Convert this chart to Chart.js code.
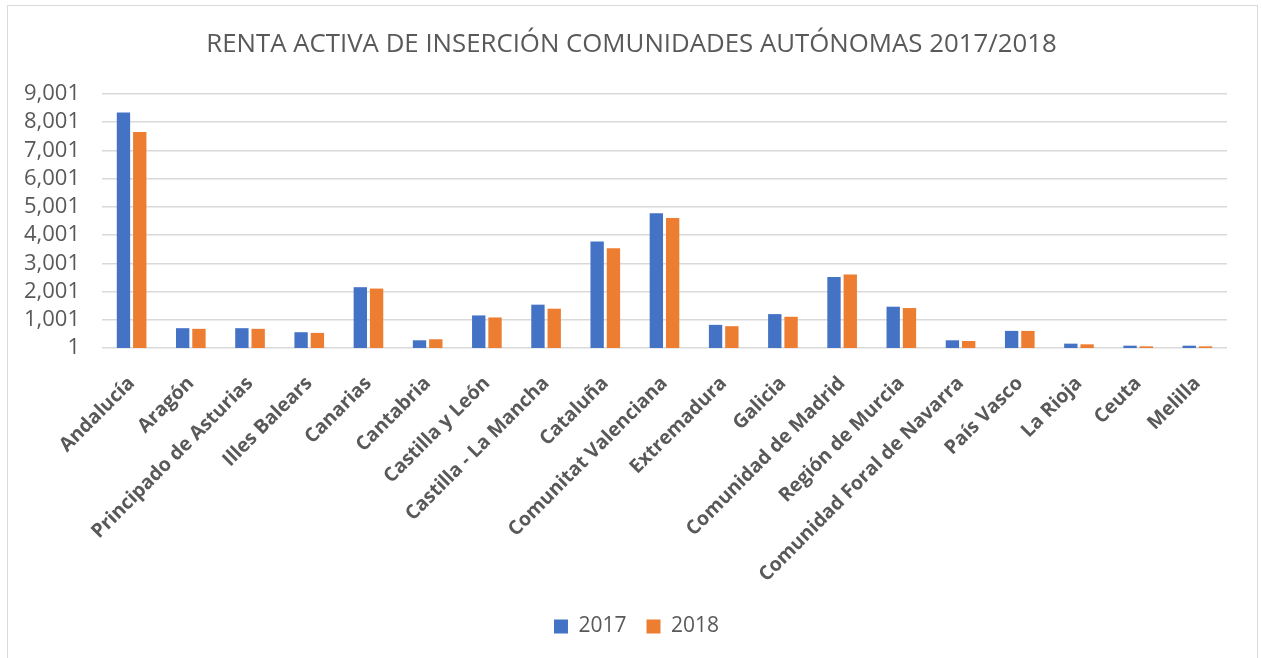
<!DOCTYPE html>
<html lang="es">
<head>
  <meta charset="UTF-8">
  <title>Renta Activa de Inserción 2017/2018</title>
  <script src="https://cdn.jsdelivr.net/npm/chart.js"></script>
  <style>
    * {
      margin: 0;
      padding: 0;
      box-sizing: border-box;
    }

    body {
      background-color: #fff;
      width: 1261px;
      height: 658px;
      position: relative;
      overflow: hidden;
    }

    /* chart frame, bottom edge runs off the picture */
    .chart-box {
      position: absolute;
      left: 7px;
      top: 5px;
      width: 1251px;
      height: 670px;
      border: 1px solid #d9d9d9;
      background: #fff;
    }
  </style>
</head>
<body>
  <div class="chart-box">
    <canvas id="rentaChart" width="1249" height="650"></canvas>
  </div>

  <script>
    const regiones = [
      'Andalucía', 'Aragón', 'Principado de Asturias', 'Illes Balears', 'Canarias',
      'Cantabria', 'Castilla y León', 'Castilla - La Mancha', 'Cataluña',
      'Comunitat Valenciana', 'Extremadura', 'Galicia', 'Comunidad de Madrid',
      'Región de Murcia', 'Comunidad Foral de Navarra', 'País Vasco', 'La Rioja',
      'Ceuta', 'Melilla'
    ];

    const valores2017 = [8346, 703, 703, 560, 2155, 274, 1155, 1536, 3774, 4774, 821, 1202, 2512, 1464, 274, 607, 155, 83, 83];
    const valores2018 = [7656, 680, 680, 536, 2107, 310, 1083, 1393, 3536, 4607, 774, 1107, 2607, 1417, 250, 607, 131, 60, 60];

    const yMin = 1;
    const yMax = 9001;
    const yStep = 1000;

    const gris = '#595959';

    // title and legend sit a bit right of the canvas centre in the original
    const centreShift = {
      id: 'centreShift',
      afterLayout(chart) {
        chart.legend.left += 19;
        chart.legend.right += 19;
        chart.titleBlock.left += 14;
        chart.titleBlock.right += 14;
      }
    };

    const ctx = document.getElementById('rentaChart').getContext('2d');
    new Chart(ctx, {
      type: 'bar',
      data: {
        labels: regiones,
        datasets: [
          {
            label: '2017',
            data: valores2017,
            backgroundColor: '#4472C4',
            categoryPercentage: 0.55,
            barPercentage: 0.82
          },
          {
            label: '2018',
            data: valores2018,
            backgroundColor: '#ED7D31',
            categoryPercentage: 0.55,
            barPercentage: 0.82
          }
        ]
      },
      plugins: [centreShift],
      options: {
        responsive: false,
        animation: false,
        layout: {
          padding: { left: 0, right: 30, top: 0, bottom: 9 }
        },
        plugins: {
          title: {
            display: true,
            text: 'RENTA ACTIVA DE INSERCIÓN COMUNIDADES AUTÓNOMAS 2017/2018',
            color: gris,
            font: { family: 'Open Sans', size: 25.8, weight: 'normal' },
            padding: { top: 23, bottom: 34 }
          },
          legend: {
            position: 'bottom',
            labels: {
              color: gris,
              font: { family: 'Open Sans', size: 21 },
              boxWidth: 14,
              boxHeight: 14,
              padding: 20
            }
          },
          tooltip: { enabled: false }
        },
        scales: {
          x: {
            grid: { display: false },
            border: { display: false },
            ticks: {
              color: gris,
              font: { family: 'Open Sans', size: 19.5, weight: '700' },
              maxRotation: 45,
              minRotation: 45,
              autoSkip: false,
              padding: 16
            },
            afterFit: (scale) => { scale.height = 248; }
          },
          y: {
            min: yMin,
            max: yMax,
            border: { display: false },
            grid: { color: '#d9d9d9', lineWidth: 1.5, drawTicks: false },
            ticks: {
              stepSize: yStep,
              autoSkip: false,
              color: gris,
              padding: 22,
              font: { family: 'Open Sans', size: 22 },
              callback: (v) => v.toLocaleString('en-US')
            },
            afterFit: (scale) => { scale.width = 94; }
          }
        }
      }
    });
  </script>
</body>
</html>
